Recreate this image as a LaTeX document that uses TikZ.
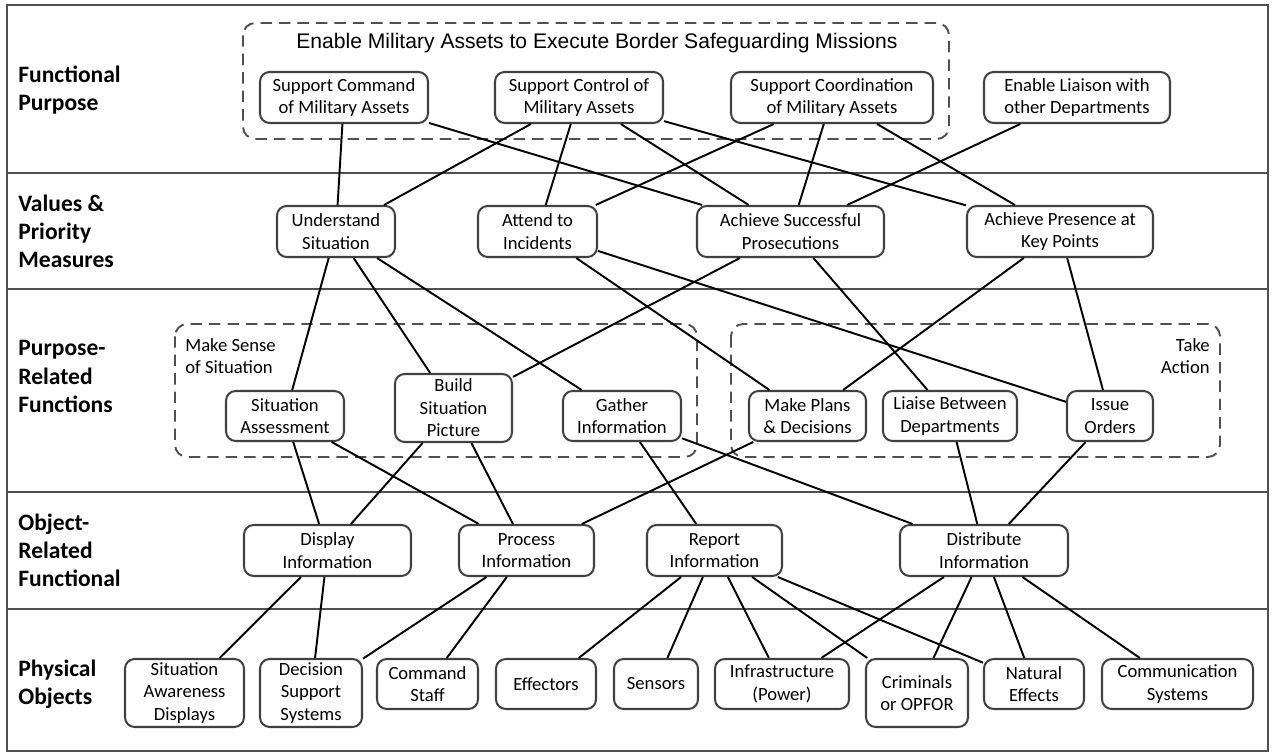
\documentclass[tikz,border=0pt]{standalone}
\usepackage{fontspec}
\setmainfont{Carlito}
\newfontfamily\titlefont{Liberation Sans}
\usetikzlibrary{calc}

\definecolor{framegray}{HTML}{505050}
\definecolor{boxgray}{HTML}{404040}

\tikzset{
  box/.style 2 args={draw=boxgray, line width=1.15pt, rounded corners=5.5pt, align=center, inner sep=0pt,
    minimum width=#1*0.02cm, minimum height=#2*0.02cm, font=\fontsize{10.6}{12.8}\selectfont},
  link/.style={line width=1.1pt, black},
  group/.style={draw=framegray, line width=1.1pt, dash pattern=on 6.5pt off 4pt, rounded corners=7pt},
  rowlabel/.style={anchor=west, align=left, inner sep=0pt, font=\fontsize{13.4}{16}\selectfont\bfseries},
  note/.style={inner sep=0pt, font=\fontsize{10.6}{12.8}\selectfont},
}

\begin{document}
\begin{tikzpicture}[x=0.02cm, y=-0.02cm]

\def\ya{97.5}
\def\yb{231.5}
\def\yc{416}
\def\yd{550.5}
\def\ye{684}
\def\yf{693}

\useasboundingbox (0,0) rectangle (1272,756);

\draw[framegray, line width=1.4pt] (7,5) rectangle (1268,751);
\draw[framegray, line width=1.4pt] (7,173) -- (1268,173);
\draw[framegray, line width=1.4pt] (7,289) -- (1268,289);
\draw[framegray, line width=1.4pt] (7,492) -- (1268,492);
\draw[framegray, line width=1.4pt] (7,609) -- (1268,609);

\node[rowlabel] (lfp) at (18,90.5) {Functional\\Purpose};
\node[rowlabel] (lvp) at (18,\yb) {Values \&\\Priority\\Measures};
\node[rowlabel] (lpr) at (18,376.5) {Purpose-\\Related\\Functions};
\node[rowlabel] (lor) at (18,550) {Object-\\Related\\Functional};
\node[rowlabel] (lpo) at (18,\ye) {Physical\\Objects};

\draw[group] (243,23) rectangle (949,139);
\draw[group] (175,324) rectangle (697,457);
\draw[group] (731,324) rectangle (1220,457);

\node[note, font=\titlefont\fontsize{12}{14}\selectfont] (goal) at (597,43) {Enable Military Assets to Execute Border Safeguarding Missions};
\node[note, anchor=west, align=left] (sense) at (185,356) {Make Sense\\of Situation};
\node[note, anchor=east, align=right] (act) at (1210,356) {Take\\Action};

\node[box={168}{51}] (scmd) at (344,\ya) {Support Command\\of Military Assets};
\node[box={168}{51}] (sctl) at (579,\ya) {Support Control of\\Military Assets};
\node[box={202}{51}] (scrd) at (832,\ya) {Support Coordination\\of Military Assets};
\node[box={186}{51}] (elia) at (1077,\ya) {Enable Liaison with\\other Departments};

\node[box={118}{51}] (us) at (336,\yb) {Understand\\Situation};
\node[box={119}{51}] (ai) at (537.5,\yb) {Attend to\\Incidents};
\node[box={187}{51}] (asp) at (790.5,\yb) {Achieve Successful\\Prosecutions};
\node[box={186}{51}] (apk) at (1060,\yb) {Achieve Presence at\\Key Points};

\node[box={118}{50}] (sa) at (285,\yc) {Situation\\Assessment};
\node[box={117}{68}] (bsp) at (453.5,408) {Build\\Situation\\Picture};
\node[box={118}{50}] (gi) at (622,\yc) {Gather\\Information};
\node[box={117}{50}] (mpd) at (807.5,\yc) {Make Plans\\\& Decisions};
\node[box={134}{50}] (lbd) at (950,\yc) {Liaise Between\\Departments};
\node[box={86}{50}] (io) at (1110,\yc) {Issue\\Orders};

\node[box={167}{51}] (dis) at (327.5,\yd) {Display\\Information};
\node[box={135}{51}] (pro) at (526.5,\yd) {Process\\Information};
\node[box={135}{51}] (rep) at (714.5,\yd) {Report\\Information};
\node[box={168}{51}] (dst) at (984,\yd) {Distribute\\Information};

\node[box={119}{68}] (sad) at (184.5,\yf) {Situation\\Awareness\\Displays};
\node[box={102}{68}] (dss) at (311,\yf) {Decision\\Support\\Systems};
\node[box={101}{50}] (cst) at (427.5,\ye) {Command\\Staff};
\node[box={100}{50}] (eff) at (546,\ye) {Effectors};
\node[box={84}{50}] (sen) at (656,\ye) {Sensors};
\node[box={134}{50}] (inf) at (782,\ye) {Infrastructure\\(Power)};
\node[box={102}{68}] (crim) at (917,\yf) {Criminals\\or OPFOR};
\node[box={100}{50}] (nat) at (1034,\ye) {Natural\\Effects};
\node[box={151}{50}] (com) at (1177.5,\ye) {Communication\\Systems};

\draw[link] (scmd) -- (us);
\draw[link] (scmd) -- (asp);
\draw[link] (sctl) -- (us);
\draw[link] (sctl) -- (ai);
\draw[link] (sctl) -- (asp);
\draw[link] (sctl) -- (apk);
\draw[link] (scrd) -- (ai);
\draw[link] (scrd) -- (asp);
\draw[link] (scrd) -- (apk);
\draw[link] (elia) -- (asp);

\draw[link] (us) -- (sa);
\draw[link] (us) -- (bsp);
\draw[link] (us) -- (gi);
\draw[link] (ai) -- (mpd);
\draw[link] (ai) -- (io);
\draw[link] (asp) -- (bsp);
\draw[link] (asp) -- (lbd);
\draw[link] (apk) -- (mpd);
\draw[link] (apk) -- (io);

\draw[link] (sa) -- (dis);
\draw[link] (sa) -- (pro);
\draw[link] (bsp) -- (dis);
\draw[link] (bsp) -- (pro);
\draw[link] (gi) -- (rep);
\draw[link] (gi) -- (dst);
\draw[link] (mpd) -- (pro);
\draw[link] (lbd) -- (dst);
\draw[link] (io) -- (dst);

\draw[link] (dis) -- (sad);
\draw[link] (dis) -- (dss);
\draw[link] (pro) -- (dss);
\draw[link] (pro) -- (cst);
\draw[link] (rep) -- (eff);
\draw[link] (rep) -- (sen);
\draw[link] (rep) -- (inf);
\draw[link] (rep) -- (crim);
\draw[link] (rep) -- (nat);
\draw[link] (dst) -- (inf);
\draw[link] (dst) -- (crim);
\draw[link] (dst) -- (nat);
\draw[link] (dst) -- (com);

\end{tikzpicture}
\end{document}
